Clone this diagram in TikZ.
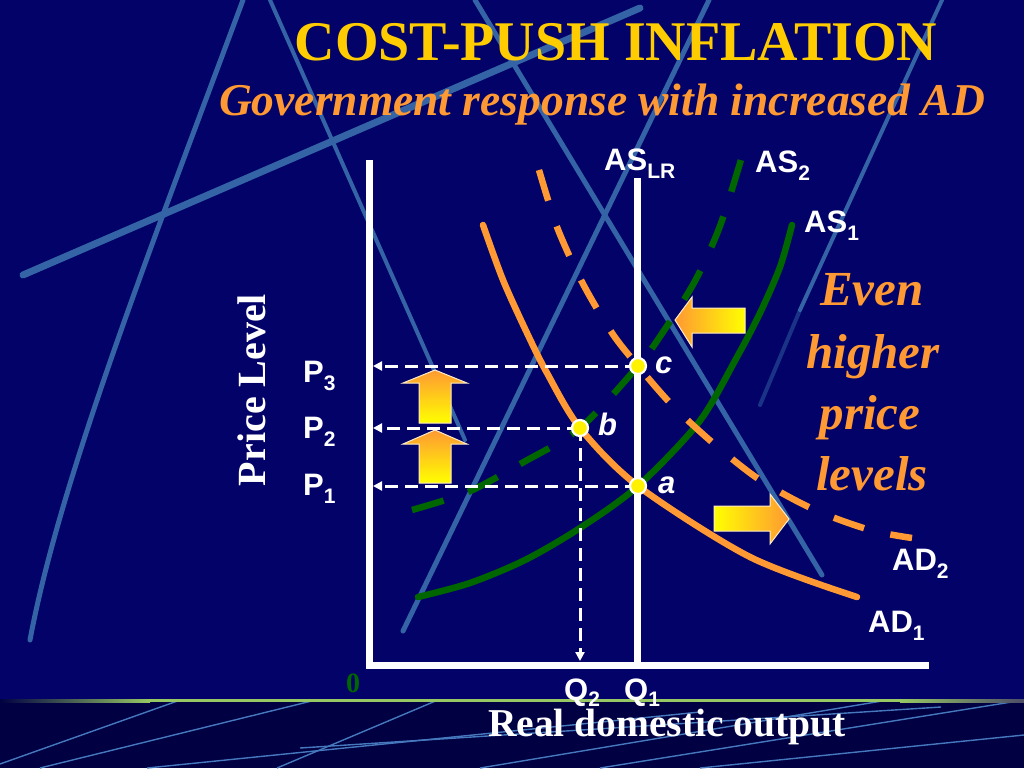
\documentclass[tikz,border=0pt]{standalone}
\usepackage{fontspec}
\setmainfont{Liberation Serif}
\newfontfamily\sansf{Liberation Sans}
\usetikzlibrary{arrows.meta}
\definecolor{bgnavy}{RGB}{2,2,104}
\definecolor{bgdark}{RGB}{0,0,66}
\definecolor{decoblue}{RGB}{52,100,165}
\definecolor{thinblue}{RGB}{70,120,190}
\definecolor{lgreen}{RGB}{150,200,100}
\definecolor{grn}{RGB}{0,102,0}
\definecolor{org}{RGB}{255,153,51}
\definecolor{ttlyellow}{RGB}{255,204,0}
\definecolor{arrowedge}{RGB}{255,235,200}
\newcommand\sansbf{\sansf\bfseries\fontsize{31}{31}\selectfont}
\newcommand\sansbi{\sansf\bfseries\itshape\fontsize{31}{31}\selectfont}
\newcommand\dn[1]{\raisebox{-8pt}{\fontsize{21}{21}\selectfont #1}}
\newcommand\dnq[1]{\raisebox{-6pt}{\fontsize{21}{21}\selectfont #1}}
\tikzset{
  deco/.style={draw=decoblue, line cap=round},
  thinl/.style={draw=thinblue, line width=1.4pt},
  axisline/.style={draw=white, line width=7pt, line join=miter},
  curve/.style={line width=6.5pt},
  guide/.style={draw=white, line width=3pt, dash pattern=on 13pt off 7pt, -{Triangle[length=9pt,width=9pt]}},
  dot/.style={circle, fill=yellow, draw=white, line width=2.2pt, minimum size=16pt, inner sep=0pt},
  lbl/.style={text=white, inner sep=0pt, font=\sansbf},
  blockarrow/.style={draw=arrowedge, line width=1pt},
}
\begin{document}
\begin{tikzpicture}[x=1pt,y=-1pt]
\useasboundingbox (0,0) rectangle (1024,768);
\fill[bgnavy] (0,0) rectangle (1024,700);
\fill[bgdark] (0,700) rectangle (1024,768);
% decorative background lines
\begin{scope}
\clip (0,0) rectangle (1024,698);
\draw[deco, line width=7pt] (23,275) -- (640,8);
\draw[deco, line width=5pt] (243,0) .. controls (150,250) and (60,480) .. (30,640);
\draw[deco, line width=4pt] (270,0) -- (465,440);
\draw[deco, line width=5pt] (403,631) -- (709,0);
\draw[deco, line width=5pt] (475,0) -- (822,575);
\draw[deco, line width=4pt] (942,0) -- (800,310);
\draw[deco, line width=4pt, opacity=0.5] (800,310) -- (760,405);
\end{scope}
\begin{scope}
\clip (0,702) rectangle (1024,768);
\draw[thinl] (0,764) -- (200,693);
\draw[thinl] (40,768) -- (340,694);
\draw[thinl] (147,768) -- (700,712);
\draw[thinl] (277,768) -- (445,697);
\draw[thinl] (300,748) -- (941,707);
\draw[thinl] (480,768) -- (900,698);
\draw[thinl] (600,768) -- (1024,700);
\draw[thinl] (700,768) -- (1024,735);
\end{scope}
% green separator
\shade[left color=bgdark, right color=lgreen] (0,699.2) rectangle (150,702.2);
\fill[lgreen] (150,699.2) rectangle (900,702.2);
\shade[left color=lgreen, right color=gray!60!bgdark] (900,699.2) rectangle (1024,702.2);
% titles
\node[text=ttlyellow, inner sep=0pt, anchor=base, font=\bfseries\fontsize{56}{60}\selectfont] (title) at (616,60) {COST-PUSH INFLATION};
\node[text=org, inner sep=0pt, anchor=base, font=\bfseries\itshape\fontsize{45.5}{50}\selectfont] (subtitle) at (602,115) {Government response with increased AD};
% coordinates
\coordinate (O) at (369,665);
\coordinate (ytop) at (369,160);
\coordinate (xend) at (929,665);
\coordinate (lrtop) at (637,178);
\coordinate (lrbot) at (637,665);
\coordinate (a) at (638,486);
\coordinate (b) at (580,428);
\coordinate (c) at (638,366);
\coordinate (p1) at (373,486);
\coordinate (p2) at (373,428);
\coordinate (p3) at (373,366);
\coordinate (q2) at (580,661);
% curves
\draw[grn, curve, line cap=round] plot[smooth] coordinates {(418,597) (470,583) (525,560) (580,528) (638,486) (699,422) (737,357) (760,313) (780,267) (792,225)};
\draw[grn, curve, dash pattern=on 33pt off 26pt] plot[smooth] coordinates {(412,510) (468,492) (522,463) (580,428) (638,366) (663,332) (695,281) (720,226) (743,153)};
\draw[org, curve, line cap=round] plot[smooth] coordinates {(483,225) (503,280) (527,333) (547,373) (580,428) (638,486) (750,557) (857,597)};
\draw[org, curve, dash pattern=on 32pt off 27pt] plot[smooth] coordinates {(539,170) (557,227) (582,282) (612,333) (638,366) (672,405) (713,443) (760,480) (815,510) (870,530) (912,538)};
% axes
\draw[axisline] (ytop) -- (O) -- (xend);
\draw[white, line width=7pt] (lrtop) -- (lrbot);
% block arrows
\shadedraw[blockarrow, top color=org, bottom color=yellow] (435,370) -- (467,383) -- (451,383) -- (451,423) -- (419,423) -- (419,383) -- (403,383) -- cycle;
\shadedraw[blockarrow, top color=org, bottom color=yellow] (435,430) -- (467,444) -- (451,444) -- (451,483) -- (419,483) -- (419,444) -- (403,444) -- cycle;
\shadedraw[blockarrow, left color=org, right color=yellow] (675,320) -- (692,297) -- (692,308) -- (745,308) -- (745,333) -- (692,333) -- (692,347) -- cycle;
\shadedraw[blockarrow, left color=yellow, right color=org] (714,506) -- (770,506) -- (770,494) -- (789,519) -- (770,544) -- (770,531) -- (714,531) -- cycle;
% guide lines
\draw[guide] (c) -- (p3);
\draw[guide] (b) -- (p2);
\draw[guide] (a) -- (p1);
\draw[guide] (b) -- (q2);
% points
\node[dot] (adot) at (a) {};
\node[dot] (bdot) at (b) {};
\node[dot] (cdot) at (c) {};
\node[lbl, font=\sansbi, anchor=base west] (alab) at (658,493) {a};
\node[lbl, font=\sansbi, anchor=base west] (blab) at (598,435) {b};
\node[lbl, font=\sansbi, anchor=base west] (clab) at (655,373) {c};
% curve labels
\node[lbl, anchor=base west] (aslr) at (604,170) {AS\dn{LR}};
\node[lbl, anchor=base west] (as2) at (755,172) {AS\dn{2}};
\node[lbl, anchor=base west] (as1) at (804,232) {AS\dn{1}};
\node[lbl, anchor=base west] (ad2) at (892,570) {AD\dn{2}};
\node[lbl, anchor=base west] (ad1) at (868,632) {AD\dn{1}};
\node[lbl, anchor=base west] (p3l) at (303,382) {P\dn{3}};
\node[lbl, anchor=base west] (p2l) at (303,438) {P\dn{2}};
\node[lbl, anchor=base west] (p1l) at (303,495) {P\dn{1}};
\node[lbl, anchor=base west] (q2l) at (564,700) {Q\dnq{2}};
\node[lbl, anchor=base west] (q1l) at (624,700) {Q\dnq{1}};
% axis titles
\node[text=white, inner sep=0pt, rotate=90, font=\bfseries\fontsize{40}{40}\selectfont] (ytitle) at (252,390) {Price Level};
\node[text=white, inner sep=0pt, anchor=base, font=\bfseries\fontsize{39.5}{40}\selectfont] (xtitle) at (667,736) {Real domestic output};
\node[text=grn, inner sep=0pt, font=\bfseries\fontsize{28}{28}\selectfont] (zero) at (353,683) {0};
% side text
\begin{scope}[every node/.style={text=org, inner sep=0pt, anchor=base, font=\bfseries\itshape\fontsize{49}{50}\selectfont}]
\node (even) at (872,305) {Even};
\node (higher) at (873,368) {higher};
\node (price) at (870,429) {price};
\node (levels) at (872,490) {levels};
\end{scope}
\end{tikzpicture}
\end{document}
